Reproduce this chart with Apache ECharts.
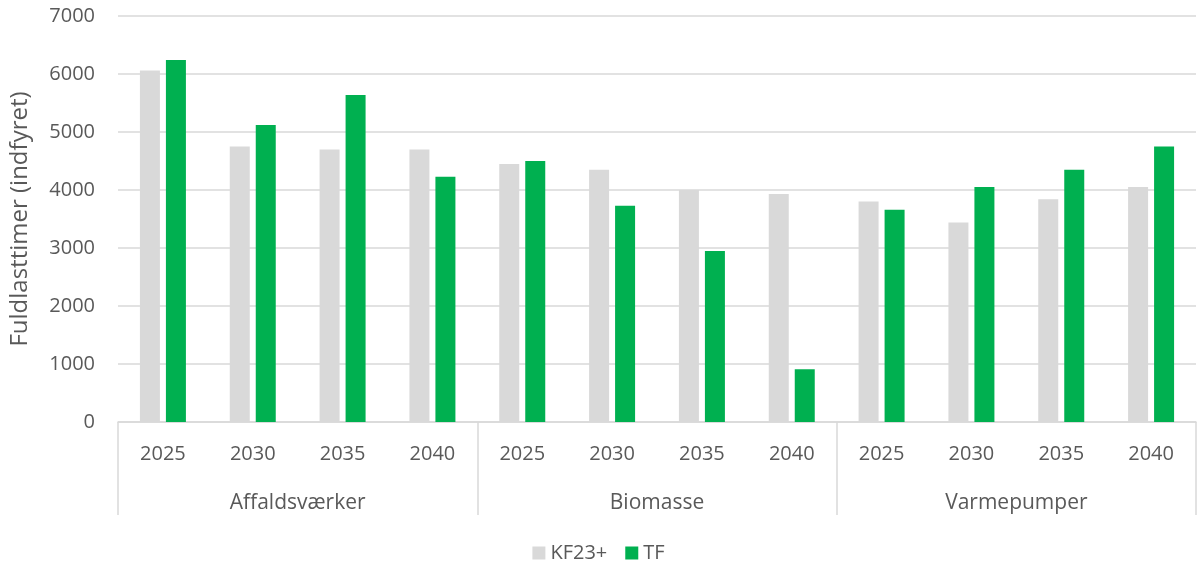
<!DOCTYPE html>
<html>
<head>
<meta charset="utf-8">
<script src="https://cdn.jsdelivr.net/npm/echarts@6/dist/echarts.min.js"></script>
<style>
html,body{margin:0;padding:0;background:#fff;}
#chart{width:1197px;height:562px;}
</style>
</head>
<body>
<div id="chart"></div>
<script>
var groups = ['Affaldsværker', 'Biomasse', 'Varmepumper'];
var years = ['2025', '2030', '2035', '2040'];
var yTicks = [0, 1000, 2000, 3000, 4000, 5000, 6000, 7000];
var kf23 = [6060, 4750, 4700, 4700, 4450, 4350, 4000, 3930, 3800, 3440, 3840, 4050];
var tf = [6240, 5120, 5640, 4230, 4500, 3730, 2950, 910, 3660, 4050, 4350, 4750];

var categories = [];
groups.forEach(function (g) { years.forEach(function (y) { categories.push(y); }); });

var FONT = 'Open Sans';
var TXT = '#595959';
var chart = echarts.init(document.getElementById('chart'));
chart.setOption({
  animation: false,
  textStyle: { fontFamily: FONT },
  grid: { left: 117, right: 1, top: 16, bottom: 140, containLabel: false },
  legend: {
    top: 538, left: 'center',
    itemWidth: 13, itemHeight: 13, itemGap: 18,
    icon: 'rect',
    textStyle: { color: TXT, fontSize: 20, fontFamily: FONT },
    data: ['KF23+', 'TF']
  },
  xAxis: [
    {
      type: 'category', data: categories, position: 'bottom',
      axisLine: { show: true, lineStyle: { color: '#d9d9d9', width: 1.5 } },
      axisTick: { show: false },
      axisLabel: { color: TXT, fontSize: 20, margin: 22, interval: 0, fontFamily: FONT }
    },
    {
      type: 'category', data: groups, position: 'bottom', offset: 0,
      axisLine: { show: false },
      axisTick: { show: true, length: 93, lineStyle: { color: '#d9d9d9', width: 1.5 } },
      axisLabel: { color: TXT, fontSize: 21, margin: 71, interval: 0, fontFamily: FONT }
    }
  ],
  yAxis: {
    type: 'value', min: yTicks[0], max: yTicks[yTicks.length - 1], interval: 1000,
    name: 'Fuldlasttimer (indfyret)', nameLocation: 'middle', nameGap: 86,
    nameTextStyle: { color: TXT, fontSize: 24, fontFamily: FONT },
    axisLine: { show: false }, axisTick: { show: false },
    axisLabel: { color: TXT, fontSize: 20, margin: 23, fontFamily: FONT,
      formatter: function (v) { return String(v); } },
    splitLine: { lineStyle: { color: '#d9d9d9', width: 1.5 } }
  },
  series: [
    { name: 'KF23+', type: 'bar', data: kf23, xAxisIndex: 0, barWidth: 20, barGap: '30%',
      itemStyle: { color: '#d9d9d9' } },
    { name: 'TF', type: 'bar', data: tf, xAxisIndex: 0, barWidth: 20, barGap: '30%',
      itemStyle: { color: '#00b050' } }
  ]
});
</script>
</body>
</html>
